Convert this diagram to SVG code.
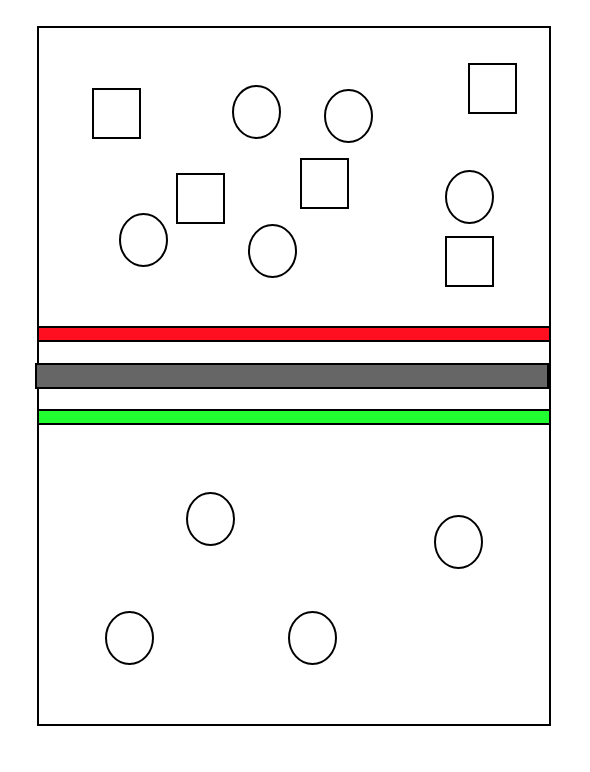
<svg xmlns="http://www.w3.org/2000/svg" width="590" height="772" viewBox="0 0 590 772">
<style>
.s{fill:#fff;stroke:#000;stroke-width:2}
.e{fill:#fff;stroke:#000;stroke-width:2}
.bar{stroke:#000;stroke-width:2}
</style>
<rect width="590" height="772" fill="#fff"/>
<g id="frame"><rect x="38" y="27" width="512" height="698" fill="#fff" stroke="#000" stroke-width="2"/></g>
<g id="sq1"><rect class="s" x="93" y="89" width="47" height="49"/></g>
<g id="sq2"><rect class="s" x="177" y="174" width="47" height="49"/></g>
<g id="sq3"><rect class="s" x="301" y="159" width="47" height="49"/></g>
<g id="sq4"><rect class="s" x="469" y="64" width="47" height="49"/></g>
<g id="sq5"><rect class="s" x="446" y="237" width="47" height="49"/></g>
<g id="c1"><ellipse class="e" cx="256.5" cy="112" rx="23.5" ry="26"/></g>
<g id="c2"><ellipse class="e" cx="348.5" cy="116" rx="23.5" ry="26"/></g>
<g id="c3"><ellipse class="e" cx="469.5" cy="197" rx="23.5" ry="26"/></g>
<g id="c4"><ellipse class="e" cx="143.5" cy="240" rx="23.5" ry="26"/></g>
<g id="c5"><ellipse class="e" cx="272.5" cy="251" rx="23.5" ry="26"/></g>
<g id="bar-red"><rect class="bar" x="38" y="327" width="512" height="14" fill="#ff0f1f"/></g>
<g id="bar-gray"><rect class="bar" x="36" y="364" width="512" height="24" fill="#666"/></g>
<g id="bar-green"><rect class="bar" x="38" y="410" width="512" height="14" fill="#22ff30"/></g>
<g id="c6"><ellipse class="e" cx="210.5" cy="519" rx="23.5" ry="26"/></g>
<g id="c7"><ellipse class="e" cx="458.5" cy="542" rx="23.5" ry="26"/></g>
<g id="c8"><ellipse class="e" cx="129.5" cy="638" rx="23.5" ry="26"/></g>
<g id="c9"><ellipse class="e" cx="312.5" cy="638" rx="23.5" ry="26"/></g>
<g id="connectors"></g>
</svg>
